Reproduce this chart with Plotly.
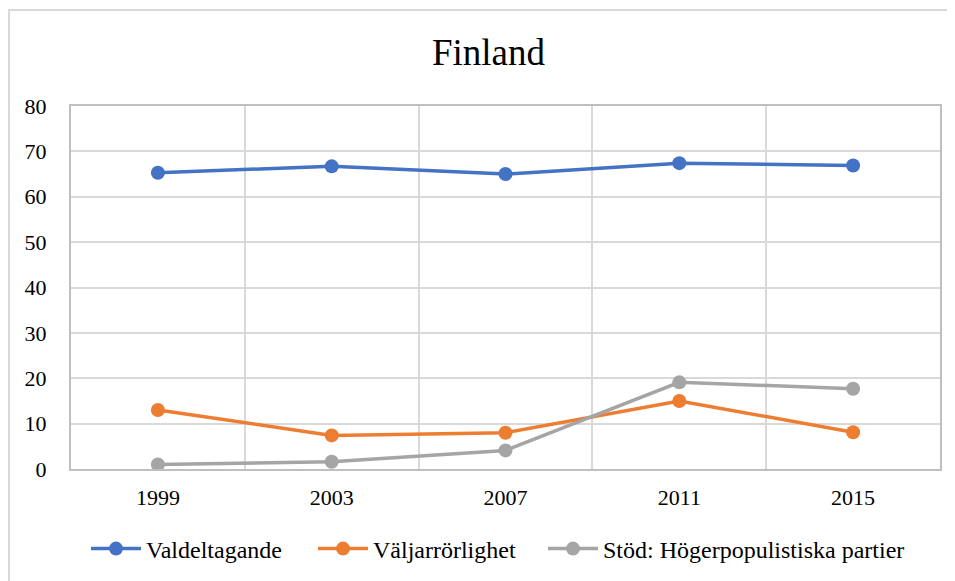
import plotly.graph_objects as go

years = ["1999", "2003", "2007", "2011", "2015"]
valdeltagande = [65.3, 66.7, 65.0, 67.4, 66.9]
valjarrorlighet = [13.0, 7.4, 8.0, 15.0, 8.1]
stod_hogerpop = [1.0, 1.6, 4.1, 19.1, 17.7]

series = [
    ("Valdeltagande", valdeltagande, "#4472C4", "legend"),
    ("Väljarrörlighet", valjarrorlighet, "#ED7D31", "legend2"),
    ("Stöd: Högerpopulistiska partier", stod_hogerpop, "#A5A5A5", "legend3"),
]
# text start x (page px) of each legend entry
legend_text_x = [146, 373, 603]

FONT = "Times New Roman"

fig = go.Figure()
for name, vals, color, lg in series:
    fig.add_trace(go.Scatter(
        x=years, y=vals, name=name, mode="lines+markers",
        line=dict(color=color, width=3.5),
        marker=dict(color=color, size=14),
        legend=lg,
    ))

OFF = 8  # page body margin
W, H = 955, 581
L, R, T, B = 71 - OFF, 955 - 940 + OFF, 106 - OFF, 581 - 469 + OFF
pw, ph = W - L - R, H - T - B

ITEMW = 50
legends = {}
for i, key in enumerate(["legend", "legend2", "legend3"]):
    x0 = legend_text_x[i] - OFF - (ITEMW + 10)
    legends[key] = dict(orientation="h", x=x0 / W, xanchor="left", xref="container",
                        y=1 - (549 - OFF) / H, yref="container", yanchor="middle",
                        font=dict(family=FONT, size=24, color="black"),
                        itemwidth=ITEMW, bgcolor="rgba(0,0,0,0)", borderwidth=0)

fig.update_layout(
    width=W, height=H,
    margin=dict(l=L, r=R, t=T, b=B),
    paper_bgcolor="white", plot_bgcolor="white",
    font=dict(family=FONT, size=22, color="black"),
    title=dict(text="Finland", x=(488.5 - OFF) / W, xref="container", xanchor="center",
               y=1 - (52 - OFF) / H, yanchor="middle",
               font=dict(family=FONT, size=37, color="black")),
    showlegend=True,
    **legends,
    xaxis=dict(type="category", range=[-0.5, 4.5], tickson="boundaries",
               showgrid=True, gridcolor="#D9D9D9", gridwidth=1.5,
               showline=True, linecolor="#BFBFBF", linewidth=2, mirror=True,
               ticks="", ticklabelstandoff=8, zeroline=False),
    yaxis=dict(range=[0, 80], dtick=10, showgrid=True, gridcolor="#D9D9D9",
               gridwidth=1.5, showline=True, linecolor="#BFBFBF", linewidth=2,
               mirror=True, ticks="", ticklabelstandoff=18, zeroline=False),
    shapes=[dict(type="rect", xref="paper", yref="paper",
                 x0=(9 - OFF - L) / pw, x1=(W + 20 - L) / pw,
                 y0=-(H + 20 - T - ph) / ph, y1=(H - B - (10 - OFF)) / ph,
                 line=dict(color="#D9D9D9", width=2), fillcolor="rgba(0,0,0,0)",
                 layer="below")],
)

fig.write_html("out.html")
